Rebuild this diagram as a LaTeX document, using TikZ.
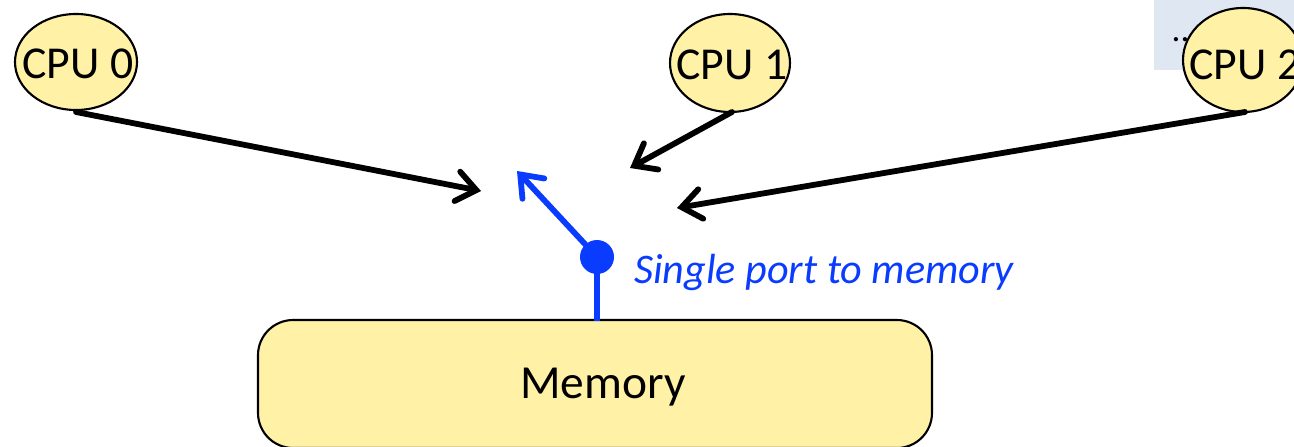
\documentclass[tikz,border=0pt]{standalone}
\usepackage{fontspec}
\setmainfont{Carlito}
\usetikzlibrary{arrows.meta}
\definecolor{cpuyel}{HTML}{FFF2A6}
\definecolor{portblue}{HTML}{0A3CFF}
\definecolor{boxblue}{HTML}{DFE7F2}
\begin{document}
\begin{tikzpicture}[x=0.02cm,y=-0.02cm,
  cpufont/.style={font=\fontsize{26}{30}\selectfont},
  outline/.style={line width=1.2pt,fill=cpuyel},
  conn/.style={line width=3.3pt,line cap=round,-{Straight Barb[length=11pt,width=17pt,line width=3.3pt,line cap=round]}},
  blueconn/.style={conn,draw=portblue}]
\useasboundingbox (0,0) rectangle (1294,446);
\begin{scope}
\clip (0,0) rectangle (1294,446);
\fill[boxblue] (1154,0) rectangle (1300,70);
\node[font=\fontsize{20}{24}\selectfont] (dots) at (1185,40) {...};
\draw[outline] (76,62) ellipse [x radius=61,y radius=48];
\node[cpufont] (cpu0) at (78,64) {CPU 0};
\draw[outline] (730,63) ellipse [x radius=60,y radius=49];
\node[cpufont] (cpu1) at (732,65) {CPU 1};
\draw[outline] (1243,60) ellipse [x radius=60,y radius=52];
\node[cpufont] (cpu2) at (1245,65) {CPU 2};
\draw[outline,rounded corners=20] (258,320) rectangle (932,448);
\node[font=\fontsize{27}{32}\selectfont] (mem) at (603,387) {Memory};
\coordinate (t0) at (76,112);
\coordinate (h0) at (481,191);
\coordinate (t1) at (732,112);
\coordinate (h1) at (630,168);
\coordinate (t2) at (1245,112);
\coordinate (h2) at (677,208);
\coordinate (port) at (597,257);
\coordinate (hb) at (517,171);
\coordinate (memtop) at (597,321);
\draw[conn] (t0) -- (h0);
\draw[conn] (t1) -- (h1);
\draw[conn] (t2) -- (h2);
\draw[portblue,line width=3.3pt] (port) -- (memtop);
\draw[blueconn] (port) -- (hb);
\fill[portblue] (port) circle (17);
\node[anchor=west,text=portblue,font=\fontsize{24}{28}\selectfont\itshape] (lbl) at (628,272) {Single port to memory};
\end{scope}
\end{tikzpicture}
\end{document}
